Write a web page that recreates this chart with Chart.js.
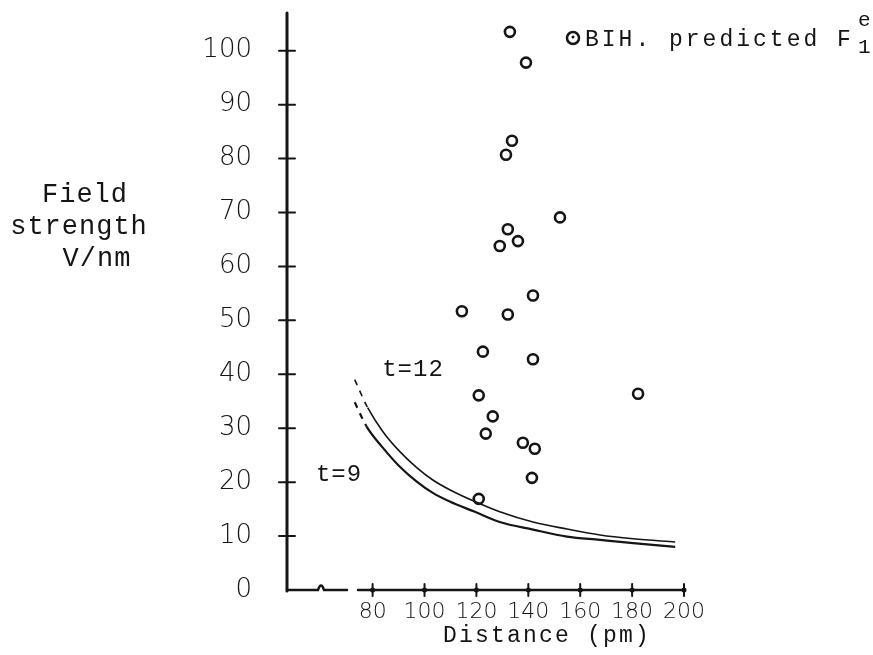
<!DOCTYPE html>
<html>
<head>
<meta charset="utf-8">
<script src="https://cdn.jsdelivr.net/npm/chart.js@4"></script>
<style>
  body { margin: 0; background: #fff; }
  #wrap { width: 873px; height: 655px; position: relative; }
</style>
</head>
<body>
<div id="wrap"><canvas id="chartField"></canvas></div>
<script>
// tick labels
var xTicks = [80, 100, 120, 140, 160, 180, 200];
var yTicks = [0, 10, 20, 30, 40, 50, 60, 70, 80, 90, 100];

// BIH. predicted F1e (distance pm, field V/nm)
var bihX = [132.9, 139.1, 133.7, 131.4, 152.2, 132.1, 136.0, 129.0, 141.8, 114.4, 132.1,
            122.5, 141.8, 120.9, 182.3, 126.3, 123.6, 137.9, 142.5, 141.4, 120.9];
var bihY = [103.5, 97.8, 83.3, 80.7, 69.1, 66.9, 64.7, 63.8, 54.6, 51.7, 51.1,
            44.2, 42.8, 36.1, 36.4, 32.2, 29.0, 27.3, 26.2, 20.8, 16.9];

// t=12 curve (first segment dashed)
var t12X = [73.1, 78.1, 83.9, 90.4, 97.0, 103.2, 109.7, 119.4, 129.0, 141.8, 154.9, 167.6, 180.4, 196.6];
var t12Y = [39.0, 33.8, 29.4, 25.7, 22.7, 20.4, 18.6, 16.4, 14.5, 12.6, 11.3, 10.2, 9.5, 8.9];

// t=9 curve (first segment dashed)
var t9X = [73.1, 77.7, 83.9, 90.4, 97.0, 103.2, 109.7, 119.4, 129.0, 141.8, 154.9, 167.6, 180.4, 196.6];
var t9Y = [34.8, 30.3, 26.4, 22.9, 20.1, 18.0, 16.4, 14.5, 12.6, 11.2, 9.9, 9.3, 8.7, 8.0];

function pts(xs, ys) {
    return xs.map(function(v, i) { return { x: v, y: ys[i] }; });
}

var ink = '#151515';
var mono = '"Liberation Mono", "DejaVu Sans Mono", monospace';

function text(ctx, s, x, y, font, spacing, align) {
    ctx.font = font;
    ctx.letterSpacing = (spacing || 0) + 'px';
    ctx.textAlign = align || 'center';
    ctx.textBaseline = 'middle';
    ctx.fillText(s, x, y);
}

function noPad(scale) {
    scale.paddingTop = 0;
    scale.paddingBottom = 0;
    scale.paddingLeft = 0;
    scale.paddingRight = 0;
}

var decor = {
    id: 'decor',
    afterDraw: function(chart) {
        var ctx = chart.ctx, x = chart.scales.x, y = chart.scales.y;
        var x0 = x.left, y0 = y.bottom;
        ctx.save();
        ctx.strokeStyle = ink;
        ctx.fillStyle = ink;
        ctx.lineCap = 'round';

        // y axis
        ctx.lineWidth = 3;
        ctx.beginPath();
        ctx.moveTo(x0, y.top);
        ctx.lineTo(x0, y0 + 1);
        ctx.stroke();
        ctx.lineWidth = 2;
        yTicks.forEach(function(v) {
            if (v === 0) return;
            var py = y.getPixelForValue(v);
            ctx.beginPath();
            ctx.moveTo(x0 - 8, py);
            ctx.lineTo(x0 + 8, py);
            ctx.stroke();
        });

        // x axis with break
        ctx.lineWidth = 2.5;
        ctx.beginPath();
        ctx.moveTo(x0, y0);
        ctx.lineTo(x0 + 31, y0);
        ctx.quadraticCurveTo(x0 + 34, y0 - 9, x0 + 37, y0);
        ctx.lineTo(x0 + 60, y0);
        ctx.moveTo(x0 + 71, y0);
        ctx.lineTo(x.right, y0);
        ctx.stroke();
        ctx.lineWidth = 2;
        xTicks.forEach(function(v) {
            var px = x.getPixelForValue(v);
            ctx.beginPath();
            ctx.moveTo(px, y0 - 6);
            ctx.lineTo(px, y0 + 6);
            ctx.stroke();
            ctx.beginPath();
            ctx.arc(px, y0, 2.5, 0, Math.PI * 2);
            ctx.fill();
        });

        // y title
        text(ctx, 'Field', 85, 195, '27px ' + mono, 1);
        text(ctx, 'strength', 79, 227, '27px ' + mono, 1);
        text(ctx, 'V/nm', 97, 259, '27px ' + mono, 1);

        // x title
        text(ctx, 'Distance (pm)', 547, 636, '23px ' + mono, 2.2);

        // curve labels
        text(ctx, 't=12', 413, 370, '24px ' + mono, 1);
        text(ctx, 't=9', 339, 475, '24px ' + mono, 1);

        // legend
        ctx.lineWidth = 2.5;
        ctx.beginPath();
        ctx.arc(573, 38, 6, 0, Math.PI * 2);
        ctx.stroke();
        ctx.beginPath();
        ctx.arc(573, 37, 1.5, 0, Math.PI * 2);
        ctx.fill();
        text(ctx, 'BIH. predicted F', 585, 40, '23px ' + mono, 3, 'left');
        text(ctx, 'e', 858, 20, '21px ' + mono, 0, 'left');
        text(ctx, '1', 858, 47, '21px ' + mono, 0, 'left');
        ctx.restore();
    }
};

var ctx = document.getElementById('chartField');
var chartField = new Chart(ctx, {
    type: 'scatter',
    data: {
        datasets: [{
            label: 'BIH. predicted',
            data: pts(bihX, bihY),
            pointStyle: 'circle',
            pointRadius: 5,
            borderWidth: 2.6,
            borderColor: ink,
            backgroundColor: 'rgba(0,0,0,0)'
        }, {
            label: 't=12',
            data: pts(t12X, t12Y),
            showLine: true,
            pointRadius: 0,
            borderWidth: 1.6,
            borderColor: ink,
            cubicInterpolationMode: 'monotone',
            segment: { borderDash: function(c) { return c.p0DataIndex === 0 ? [6, 6] : undefined; } }
        }, {
            label: 't=9',
            data: pts(t9X, t9Y),
            showLine: true,
            pointRadius: 0,
            borderWidth: 2.2,
            borderColor: ink,
            cubicInterpolationMode: 'monotone',
            segment: { borderDash: function(c) { return c.p0DataIndex === 0 ? [6, 6] : undefined; } }
        }]
    },
    options: {
        responsive: true,
        maintainAspectRatio: false,
        animation: false,
        layout: { padding: { top: 13, right: 189, left: 0, bottom: 0 } },
        plugins: { legend: { display: false }, tooltip: { enabled: false } },
        scales: {
            x: {
                type: 'linear',
                min: 47,
                max: 200,
                grid: { display: false, drawTicks: false },
                border: { display: false },
                afterBuildTicks: function(scale) {
                    scale.ticks = xTicks.map(function(v) { return { value: v }; });
                },
                afterFit: function(scale) { scale.height = 65; noPad(scale); },
                ticks: {
                    autoSkip: false,
                    maxRotation: 0,
                    padding: 9,
                    color: ink,
                    font: { family: '"DejaVu Sans"', size: 22, weight: 200 }
                }
            },
            y: {
                min: 0,
                max: 107,
                grid: { display: false, drawTicks: false },
                border: { display: false },
                afterBuildTicks: function(scale) {
                    scale.ticks = yTicks.map(function(v) { return { value: v }; });
                },
                afterFit: function(scale) { scale.width = 287; noPad(scale); },
                ticks: {
                    autoSkip: false,
                    padding: 35,
                    color: ink,
                    font: { family: '"DejaVu Sans"', size: 26, weight: 200 }
                }
            }
        }
    },
    plugins: [decor]
});
</script>
</body>
</html>
